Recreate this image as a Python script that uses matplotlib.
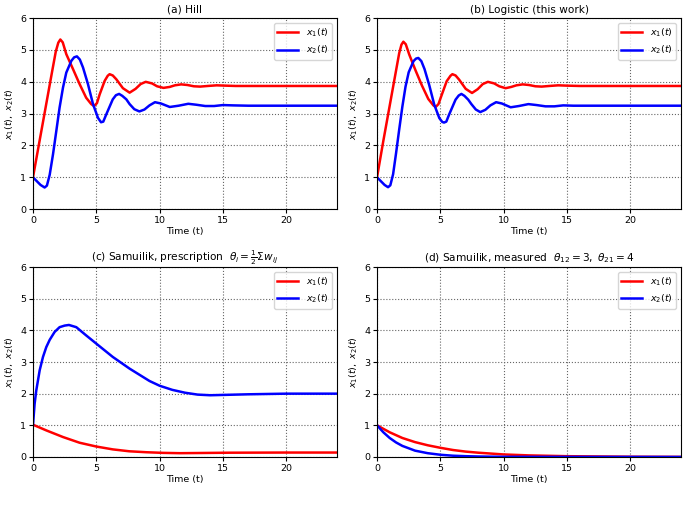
import matplotlib
matplotlib.use('Agg')
import matplotlib.pyplot as plt

# values

# (a) Hill
t_a1 = [0, 0.5, 1.0, 1.5, 1.8, 2.0, 2.16, 2.35, 2.63, 3.16, 3.68, 4.2, 4.6, 4.82, 5.05, 5.26, 5.66, 5.9,
        6.05, 6.3, 6.58, 7.1, 7.63, 8.1, 8.5, 8.9, 9.4, 9.8, 10.3, 10.8, 11.2, 11.7, 12.2, 12.7, 13.2,
        13.8, 14.5, 15.2, 16, 24]
x1_a = [1.0, 2.1, 3.2, 4.3, 4.95, 5.23, 5.33, 5.24, 4.87, 4.4, 3.93, 3.5, 3.3, 3.24, 3.33, 3.6, 4.03, 4.19,
        4.24, 4.2, 4.08, 3.8, 3.66, 3.78, 3.93, 4.0, 3.95, 3.86, 3.81, 3.84, 3.89, 3.92, 3.9, 3.86, 3.85,
        3.87, 3.89, 3.88, 3.87, 3.87]
t_a2 = [0, 0.3, 0.6, 0.92, 1.1, 1.32, 1.58, 1.84, 2.1, 2.37, 2.63, 3.03, 3.25, 3.47, 3.7, 3.95, 4.34, 4.74,
        5.13, 5.37, 5.55, 5.79, 6.3, 6.55, 6.8, 7.05, 7.37, 7.63, 8.0, 8.4, 8.8, 9.2, 9.63, 10.1, 10.8,
        11.5, 12.26, 12.9, 13.6, 14.3, 15.0, 15.8, 17, 24]
x2_a = [1.0, 0.88, 0.76, 0.68, 0.74, 1.08, 1.72, 2.45, 3.19, 3.82, 4.29, 4.66, 4.77, 4.8, 4.7, 4.45, 3.93, 3.3,
        2.87, 2.73, 2.75, 2.98, 3.45, 3.58, 3.62, 3.56, 3.45, 3.3, 3.14, 3.07, 3.13, 3.26, 3.36, 3.32, 3.21,
        3.25, 3.31, 3.28, 3.24, 3.24, 3.27, 3.26, 3.25, 3.25]

# (b) Logistic
t_b1 = [0, 0.5, 1.0, 1.5, 1.75, 1.93, 2.08, 2.27, 2.55, 3.05, 3.55, 4.05, 4.45, 4.63, 4.85, 5.1, 5.5, 5.8,
        5.95, 6.2, 6.48, 7.0, 7.5, 7.95, 8.35, 8.75, 9.25, 9.65, 10.15, 10.6, 11.0, 11.5, 12.0, 12.5, 13.0,
        13.6, 14.3, 15.0, 16, 24]
x1_b = [1.0, 2.15, 3.25, 4.35, 4.9, 5.17, 5.26, 5.18, 4.85, 4.35, 3.88, 3.46, 3.26, 3.21, 3.3, 3.58, 4.02, 4.19,
        4.24, 4.2, 4.07, 3.78, 3.65, 3.77, 3.93, 4.0, 3.95, 3.86, 3.8, 3.84, 3.89, 3.92, 3.9, 3.86, 3.85,
        3.87, 3.89, 3.88, 3.87, 3.87]
t_b2 = [0, 0.3, 0.6, 0.87, 1.05, 1.27, 1.5, 1.75, 2.0, 2.25, 2.5, 2.88, 3.08, 3.26, 3.5, 3.75, 4.12, 4.52,
        4.92, 5.15, 5.29, 5.47, 5.7, 6.2, 6.45, 6.66, 6.9, 7.2, 7.45, 7.8, 8.15, 8.55, 8.95, 9.4, 9.85,
        10.55, 11.2, 11.95, 12.6, 13.3, 14.0, 14.7, 15.5, 17, 24]
x2_b = [1.0, 0.88, 0.76, 0.69, 0.75, 1.1, 1.75, 2.5, 3.22, 3.85, 4.3, 4.65, 4.73, 4.75, 4.65, 4.4, 3.9, 3.28,
        2.86, 2.74, 2.72, 2.75, 2.98, 3.44, 3.57, 3.62, 3.56, 3.44, 3.3, 3.13, 3.05, 3.12, 3.26, 3.36, 3.32,
        3.2, 3.24, 3.3, 3.27, 3.23, 3.23, 3.26, 3.25, 3.25, 3.25]

# (c) Samuilik, prescription
t_c1 = [0, 1.05, 2.37, 3.68, 5.0, 6.3, 7.6, 8.95, 10.26, 11.6, 13.0, 15.5, 20.0, 24]
x1_c = [1.02, 0.84, 0.63, 0.45, 0.33, 0.24, 0.18, 0.15, 0.13, 0.12, 0.125, 0.135, 0.14, 0.14]
t_c2 = [0, 0.13, 0.26, 0.53, 0.79, 1.05, 1.32, 1.71, 2.1, 2.5, 2.84, 3.42, 4.2, 5.0, 6.3, 7.63, 9.2, 10.0,
        11.0, 12.0, 13.0, 14.0, 15.0, 17.0, 20.0, 24]
x2_c = [1.0, 1.68, 2.1, 2.74, 3.16, 3.47, 3.7, 3.95, 4.1, 4.15, 4.17, 4.1, 3.84, 3.58, 3.16, 2.79, 2.4, 2.25,
        2.12, 2.03, 1.97, 1.95, 1.96, 1.98, 2.0, 2.0]

# (d) Samuilik, measured
t_d1 = [0, 1, 2, 3, 4, 5, 6, 7, 8, 10, 12, 15, 20, 24]
x1_d = [1.0, 0.78, 0.6, 0.47, 0.37, 0.29, 0.22, 0.17, 0.135, 0.08, 0.05, 0.025, 0.008, 0.003]
t_d2 = [0, 0.5, 1, 1.5, 2, 3, 4, 5, 6, 7, 8, 10, 24]
x2_d = [1.0, 0.78, 0.6, 0.46, 0.35, 0.2, 0.12, 0.07, 0.04, 0.025, 0.015, 0.005, 0.0]

titles = ['(a) Hill',
          '(b) Logistic (this work)',
          r'(c) Samuilik, prescription  $\theta_i=\frac{1}{2}\Sigma w_{ij}$',
          r'(d) Samuilik, measured  $\theta_{12}=3,\ \theta_{21}=4$']
panels = [(t_a1, x1_a, t_a2, x2_a), (t_b1, x1_b, t_b2, x2_b),
          (t_c1, x1_c, t_c2, x2_c), (t_d1, x1_d, t_d2, x2_d)]

fig = plt.figure(figsize=(6.87, 5.19), dpi=100)
boxes = [[0.048, 0.597, 0.4425, 0.368], [0.5488, 0.597, 0.4425, 0.368],
         [0.048, 0.1195, 0.4425, 0.366], [0.5488, 0.1195, 0.4425, 0.366]]

fs = 6.8
for box, title, (ta, xa, tb, xb) in zip(boxes, titles, panels):
    ax = fig.add_axes(box)
    ax.plot(ta, xa, color='red', lw=1.8, label=r'$x_1(t)$')
    ax.plot(tb, xb, color='blue', lw=1.8, label=r'$x_2(t)$')
    ax.set_xlim(0, 24)
    ax.set_ylim(0, 6)
    ax.set_xticks([0, 5, 10, 15, 20])
    ax.set_yticks(range(7))
    ax.grid(True, linestyle=':', color='0.4', lw=0.8)
    ax.set_title(title, fontsize=7.6, pad=4)
    ax.set_xlabel('Time (t)', fontsize=fs, labelpad=1.5)
    ax.set_ylabel(r'$x_1(t),\ x_2(t)$', fontsize=fs, labelpad=3)
    ax.tick_params(labelsize=fs, length=3, pad=2)
    ax.legend(loc='upper right', fontsize=fs, handlelength=2.2, borderaxespad=0.5)

# caption, mostly cut off at the bottom edge
fig.text(0.5, -0.018, r'Trajectories of $x_1(t)$ and $x_2(t)$ for the four models', ha='center',
         fontsize=8)

fig.savefig('out.png', dpi=100)
